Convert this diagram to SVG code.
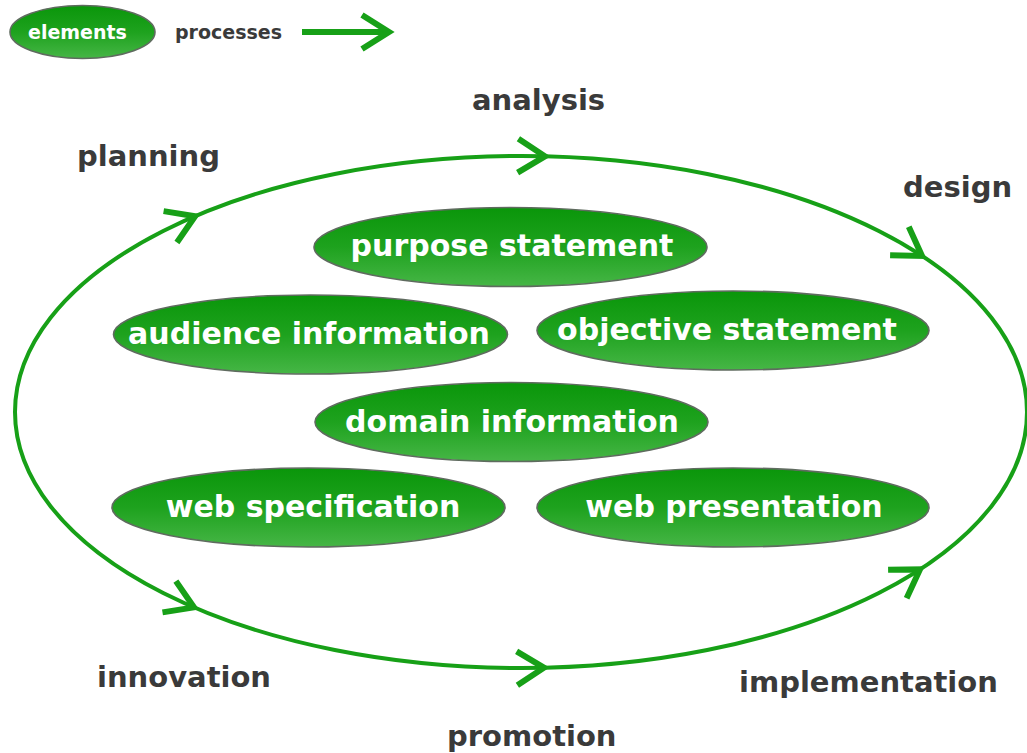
<svg xmlns="http://www.w3.org/2000/svg" xmlns:xlink="http://www.w3.org/1999/xlink" width="1027" height="753" viewBox="0 0 1027 753">
  <defs>
    <linearGradient id="nodeFill" x1="0" y1="0" x2="0" y2="1">
      <stop offset="0" stop-color="#0a960a"/>
      <stop offset="0.5" stop-color="#1ea21e"/>
      <stop offset="1" stop-color="#46b646"/>
    </linearGradient>
    <path id="chev" d="M-27,-17 L0,0 L-27,17"/>
    <style>
      .node ellipse { fill: url(#nodeFill); stroke: #5f6b5f; stroke-width: 1.6; }
      .node text { font-family: "DejaVu Sans", "Liberation Sans", sans-serif; font-weight: bold; font-size: 30px; fill: #ffffff; text-anchor: middle; }
      .label { font-family: "DejaVu Sans", "Liberation Sans", sans-serif; font-weight: bold; font-size: 29px; fill: #3a3a3a; }
      .legend text { font-family: "DejaVu Sans", "Liberation Sans", sans-serif; font-weight: bold; font-size: 19px; }
      .cycle { fill: none; stroke: #17a017; stroke-width: 4; }
      .head { fill: none; stroke: #17a017; stroke-width: 6; stroke-linejoin: miter; stroke-miterlimit: 10; }
    </style>
  </defs>
  <rect width="1027" height="753" fill="#ffffff"/>

  <!-- legend -->
  <g id="legend" class="legend">
    <g class="node">
      <ellipse cx="82.5" cy="32" rx="72.5" ry="26.5"/>
    </g>
    <text x="28" y="39" fill="#ffffff">elements</text>
    <text x="175" y="39" fill="#3a3a3a">processes</text>
    <line x1="302" y1="32" x2="386" y2="32" stroke="#17a017" stroke-width="6"/>
    <use xlink:href="#chev" class="head" transform="translate(389,32)"/>
  </g>

  <!-- process cycle -->
  <g id="connectors">
    <ellipse class="cycle" cx="521" cy="412" rx="506" ry="256"/>
    <use xlink:href="#chev" class="head" transform="translate(195.1,216.2) rotate(-23.1)"/>
    <use xlink:href="#chev" class="head" transform="translate(545,156.3) rotate(1.4)"/>
    <use xlink:href="#chev" class="head" transform="translate(922,255.9) rotate(33.3)"/>
    <use xlink:href="#chev" class="head" transform="translate(920,569.4) rotate(-33)"/>
    <use xlink:href="#chev" class="head" transform="translate(544,667.7) rotate(-1.3)"/>
    <use xlink:href="#chev" class="head" transform="translate(194,607.4) rotate(23.2)"/>
  </g>

  <!-- process labels -->
  <g id="process-labels">
    <text class="label" x="77" y="166">planning</text>
    <text class="label" x="472" y="110">analysis</text>
    <text class="label" x="903" y="197">design</text>
    <text class="label" x="739" y="692">implementation</text>
    <text class="label" x="447" y="746">promotion</text>
    <text class="label" x="97" y="687">innovation</text>
  </g>

  <!-- elements -->
  <g id="purpose-statement" class="node">
    <ellipse cx="510.5" cy="247" rx="196.5" ry="39.5"/>
    <text x="512" y="256">purpose statement</text>
  </g>
  <g id="audience-information" class="node">
    <ellipse cx="310.5" cy="334.5" rx="197" ry="39.5"/>
    <text x="309" y="344">audience information</text>
  </g>
  <g id="objective-statement" class="node">
    <ellipse cx="733" cy="330.5" rx="196" ry="39.5"/>
    <text x="727" y="340">objective statement</text>
  </g>
  <g id="domain-information" class="node">
    <ellipse cx="511.5" cy="422" rx="196.5" ry="39.5"/>
    <text x="512" y="432">domain information</text>
  </g>
  <g id="web-specification" class="node">
    <ellipse cx="308.5" cy="507.5" rx="196.5" ry="39.5"/>
    <text x="313" y="517">web specification</text>
  </g>
  <g id="web-presentation" class="node">
    <ellipse cx="733" cy="507.5" rx="196" ry="39.5"/>
    <text x="734" y="517">web presentation</text>
  </g>
</svg>
